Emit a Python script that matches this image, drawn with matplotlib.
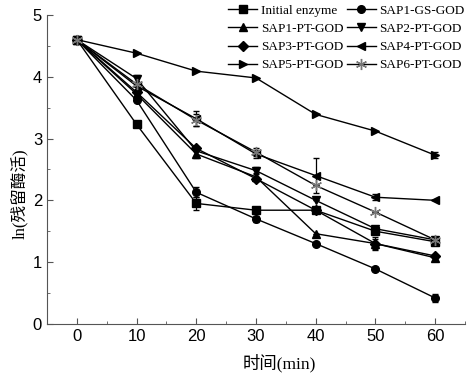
import matplotlib.pyplot as plt
import numpy as np

plt.rcParams['font.family'] = 'Liberation Sans'

# time points (min)
t = [0, 10, 20, 30, 40, 50, 60]

initial_enzyme = [4.60, 3.23, 1.95, 1.84, 1.84, 1.50, 1.33]
sap1_gs = [4.60, 3.62, 2.13, 1.70, 1.30, 0.89, 0.42]
sap1_pt = [4.60, 3.72, 2.75, 2.38, 1.46, 1.30, 1.07]
sap2_pt = [4.60, 3.97, 2.80, 2.48, 2.00, 1.54, 1.36]
sap3_pt = [4.60, 3.75, 2.84, 2.35, 1.84, 1.30, 1.10]
sap4_pt = [4.60, 3.85, 3.32, 2.75, 2.40, 2.05, 2.00]
sap5_pt = [4.60, 4.38, 4.09, 3.98, 3.39, 3.12, 2.73]
sap6_pt = [4.60, 3.88, 3.30, 2.78, 2.24, 1.81, 1.36]

# error bars (only a few points have visible ones)
err_initial = [0, 0, 0.10, 0.05, 0, 0, 0]
err_sap1_gs = [0, 0, 0.08, 0.05, 0, 0, 0.06]
err_sap1_pt = [0, 0, 0.07, 0.06, 0, 0.08, 0.05]
err_sap2_pt = [0, 0.06, 0, 0.06, 0, 0.05, 0.04]
err_sap3_pt = [0, 0, 0, 0, 0, 0.10, 0]
err_sap4_pt = [0, 0, 0.12, 0.06, 0.28, 0.05, 0]
err_sap5_pt = [0, 0, 0, 0, 0, 0, 0.05]
err_sap6_pt = [0, 0, 0.10, 0.06, 0, 0, 0.04]

labels = ['Initial enzyme', 'SAP1-GS-GOD', 'SAP1-PT-GOD', 'SAP2-PT-GOD',
          'SAP3-PT-GOD', 'SAP4-PT-GOD', 'SAP5-PT-GOD', 'SAP6-PT-GOD']
series = [initial_enzyme, sap1_gs, sap1_pt, sap2_pt, sap3_pt, sap4_pt, sap5_pt, sap6_pt]
errors = [err_initial, err_sap1_gs, err_sap1_pt, err_sap2_pt, err_sap3_pt,
          err_sap4_pt, err_sap5_pt, err_sap6_pt]
markers = ['s', 'o', '^', 'v', 'D', '<', '>', (6, 2, 0)]

fig = plt.figure(figsize=(4.74, 3.82), dpi=100)
ax = fig.add_axes([0.099, 0.152, 0.882, 0.809])

handles = []
for y, e, m, lab in zip(series, errors, markers, labels):
    if m == (6, 2, 0):
        h = ax.errorbar(t, y, yerr=e, marker=m, color='black', markersize=8, linewidth=1.0,
                        markeredgecolor='#777777', markeredgewidth=1.0,
                        elinewidth=0.9, capsize=2, label=lab)
    else:
        h = ax.errorbar(t, y, yerr=e, marker=m, color='black', markersize=5.5, linewidth=1.0,
                        elinewidth=0.9, capsize=2, label=lab)
    handles.append(h[0])

ax.set_xlim(-5, 65)
ax.set_ylim(0, 5)
ax.set_xticks(np.arange(0, 61, 10))
ax.set_xticks(np.arange(-5, 66, 5), minor=True)
ax.set_yticks(np.arange(0, 6, 1))
ax.set_yticks(np.arange(0, 5.1, 0.5), minor=True)
ax.tick_params(which='both', direction='in', labelsize=12, color='#555555', labelcolor='black')
ax.tick_params(which='major', length=4)
ax.tick_params(which='minor', length=2.5)
ax.spines['top'].set_visible(False)
ax.spines['right'].set_visible(False)
ax.spines['left'].set_color('#555555')
ax.spines['bottom'].set_color('#555555')

ax.set_xlabel('时间(min)', fontsize=12.5, family=['Liberation Serif', 'Noto Sans CJK SC'])
ax.set_ylabel('ln(残留酶活)', fontsize=12, family=['Liberation Serif', 'Noto Sans CJK SC'])
ax.xaxis.set_label_coords(0.555, -0.095)
ax.yaxis.set_label_coords(-0.045, 0.42)

# legend is filled row by row in the reference -> reorder for column-major fill
order = [0, 2, 4, 6, 1, 3, 5, 7]
leg = fig.legend([handles[i] for i in order], [labels[i] for i in order], ncol=2,
                 loc='upper right', bbox_to_anchor=(1.0, 1.012),
                 frameon=False, prop={'family': 'Liberation Serif', 'size': 9.5},
                 handlelength=2.2, handletextpad=0.3, columnspacing=0.2,
                 labelspacing=0.45, borderpad=0.2)

fig.savefig('out.png', dpi=100)
